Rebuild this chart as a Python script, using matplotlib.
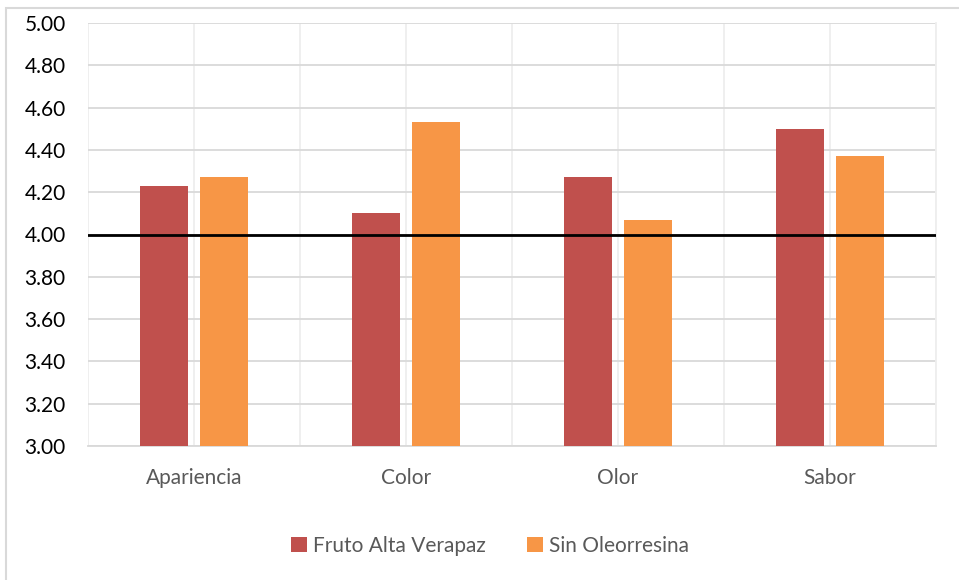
import numpy as np
import matplotlib
matplotlib.use("Agg")
import matplotlib.pyplot as plt
from matplotlib.patches import Rectangle

categorias = ["Apariencia", "Color", "Olor", "Sabor"]
fruto_alta_verapaz = [4.23, 4.10, 4.27, 4.50]
sin_oleorresina = [4.27, 4.53, 4.07, 4.37]
yticks = [3.00, 3.20, 3.40, 3.60, 3.80, 4.00, 4.20, 4.40, 4.60, 4.80, 5.00]
referencia = 4.00

plt.rcParams['font.family'] = ['Lato', 'DejaVu Sans']

fig = plt.figure(figsize=(9.59, 5.8), dpi=100)
ax = fig.add_axes([88 / 959, 134 / 580, 848 / 959, 423 / 580])

# marco del grafico (recortado a la derecha y abajo)
fig.patches.append(Rectangle((6 / 959, -0.05), 1.0, 1 - 8 / 580 + 0.05, transform=fig.transFigure,
                             fill=False, edgecolor='#d9d9d9', linewidth=1.5, zorder=0))

x = np.arange(len(categorias))
ancho = 0.222
desp = 0.1415
ax.bar(x - desp, fruto_alta_verapaz, ancho, color='#c0504d', label='Fruto Alta Verapaz', zorder=3)
ax.bar(x + desp, sin_oleorresina, ancho, color='#f79646', label='Sin Oleorresina', zorder=3)
ax.axhline(referencia, color='black', linewidth=2, zorder=4)

ax.set_ylim(3.0, 5.0)
ax.set_xlim(-0.5, len(categorias) - 0.5)
ax.set_yticks(yticks)
ax.set_yticklabels([f"{v:.2f}" for v in yticks], fontsize=15, color='black')
ax.set_xticks(x)
ax.set_xticklabels(categorias, fontsize=15, color='#595959')
ax.set_xticks(np.arange(-0.5, len(categorias), 1.0), minor=True)
ax.tick_params(axis='both', which='both', length=0)
ax.tick_params(axis='x', pad=16)
ax.tick_params(axis='y', pad=16)

ax.grid(axis='y', color='#d9d9d9', linewidth=1.3, zorder=0)
ax.grid(axis='x', which='both', color='#eeeeee', linewidth=1.3, zorder=0)
ax.set_axisbelow(True)
for s in ax.spines.values():
    s.set_visible(False)
ax.spines['bottom'].set_visible(True)
ax.spines['bottom'].set_color('#d9d9d9')
ax.spines['bottom'].set_linewidth(1.3)
ax.spines['right'].set_visible(True)
ax.spines['right'].set_color('#eeeeee')
ax.spines['right'].set_linewidth(1.3)

fig.legend(loc='center', bbox_to_anchor=(490 / 959, 1 - 546 / 580), ncol=2, frameon=False,
           fontsize=15, labelcolor='#595959', handlelength=0.75, handleheight=0.75,
           handletextpad=0.3, columnspacing=2.0)

fig.savefig("out.png", dpi=100)
